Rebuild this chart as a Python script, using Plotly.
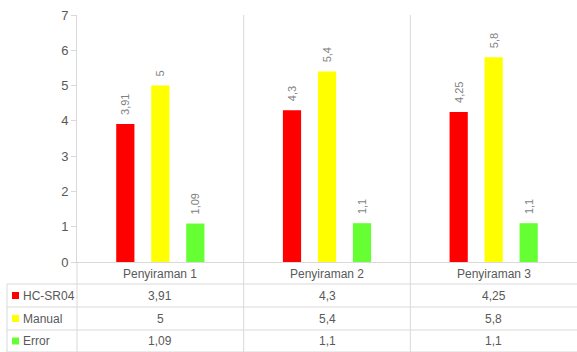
import plotly.graph_objects as go

categories = ["Penyiraman 1", "Penyiraman 2", "Penyiraman 3"]
series_names = ["HC-SR04", "Manual", "Error"]
hcsr04 = [3.91, 4.3, 4.25]
manual = [5, 5.4, 5.8]
error = [1.09, 1.1, 1.1]
series_values = [hcsr04, manual, error]
colors = ["#FF0000", "#FFFF00", "#66FF33"]
y_ticks = [0, 1, 2, 3, 4, 5, 6, 7]

W, H = 577, 352
ML, MR, MT, MB = 77, 0, 15, 90
plot_h = H - MT - MB
plot_w = W - ML - MR


def fmt(v):
    return f"{v:g}".replace(".", ",")


def py(pix):
    # pixel y (from top) -> paper y
    return (H - MB - pix) / plot_h


def px(pix):
    return (pix - ML) / plot_w


GRID = "#D9D9D9"
TXT = "#595959"
FONT = "Liberation Sans"

fig = go.Figure()
for name, vals, col in zip(series_names, series_values, colors):
    fig.add_trace(go.Bar(
        x=categories, y=vals, name=name,
        marker=dict(color=col, line=dict(width=0)),
        text=["\u00a0\u00a0" + fmt(v) for v in vals],
        textposition="outside", textangle=-90,
        textfont=dict(color="#7F7F7F", size=11, family=FONT),
        constraintext="none", cliponaxis=False,
    ))

shapes = []
# table horizontal lines
for pix in [284, 307, 330, 352]:
    shapes.append(dict(type="line", xref="paper", yref="paper",
                       x0=px(7), x1=1, y0=py(pix), y1=py(pix),
                       line=dict(color=GRID, width=1)))
# legend column left border
shapes.append(dict(type="line", xref="paper", yref="paper",
                   x0=px(7), x1=px(7), y0=py(284), y1=py(352),
                   line=dict(color=GRID, width=1)))
# y axis extension into table
shapes.append(dict(type="line", xref="paper", yref="paper",
                   x0=0, x1=0, y0=0, y1=py(352),
                   line=dict(color=GRID, width=1)))
# category dividers
for xb in [0.5, 1.5]:
    shapes.append(dict(type="line", xref="x", yref="paper",
                       x0=xb, x1=xb, y0=py(352), y1=1,
                       line=dict(color=GRID, width=1), layer="below"))

annotations = []
# header row
for c in categories:
    annotations.append(dict(x=c, y=py(273.5), xref="x", yref="paper",
                            text=c, showarrow=False,
                            xanchor="center", yanchor="middle",
                            font=dict(color=TXT, size=12, family=FONT)))
row_centers = [295.5, 318.5, 341]
for name, vals, col, rc in zip(series_names, series_values, colors, row_centers):
    shapes.append(dict(type="rect", xref="paper", yref="paper",
                       x0=px(12), x1=px(19), y0=py(rc - 3.5), y1=py(rc + 3.5),
                       fillcolor=col, line=dict(width=0)))
    annotations.append(dict(x=px(21), y=py(rc), xref="paper", yref="paper",
                            text=name, showarrow=False,
                            xanchor="left", yanchor="middle",
                            font=dict(color=TXT, size=12, family=FONT)))
    for c, v in zip(categories, vals):
        annotations.append(dict(x=c, y=py(rc), xref="x", yref="paper",
                                text=fmt(v), showarrow=False,
                                xanchor="center", yanchor="middle",
                                font=dict(color=TXT, size=12, family=FONT)))

fig.update_layout(
    width=W, height=H,
    margin=dict(l=ML, r=MR, t=MT, b=MB, pad=0),
    paper_bgcolor="white", plot_bgcolor="white",
    showlegend=False,
    barmode="group", bargap=0.37, bargroupgap=0.48,
    font=dict(family=FONT, color=TXT),
    xaxis=dict(showticklabels=False, showgrid=False, zeroline=False,
               showline=True, linecolor=GRID, linewidth=1, ticks="",
               range=[-0.5, 2.5]),
    yaxis=dict(range=[0, 7], tickvals=y_ticks, showgrid=False,
               zeroline=False, showline=True, linecolor=GRID, linewidth=1,
               ticks="outside", ticklen=5, tickcolor=GRID,
               tickfont=dict(color=TXT, size=13, family=FONT)),
    shapes=shapes, annotations=annotations,
)

fig.write_html("out.html")
